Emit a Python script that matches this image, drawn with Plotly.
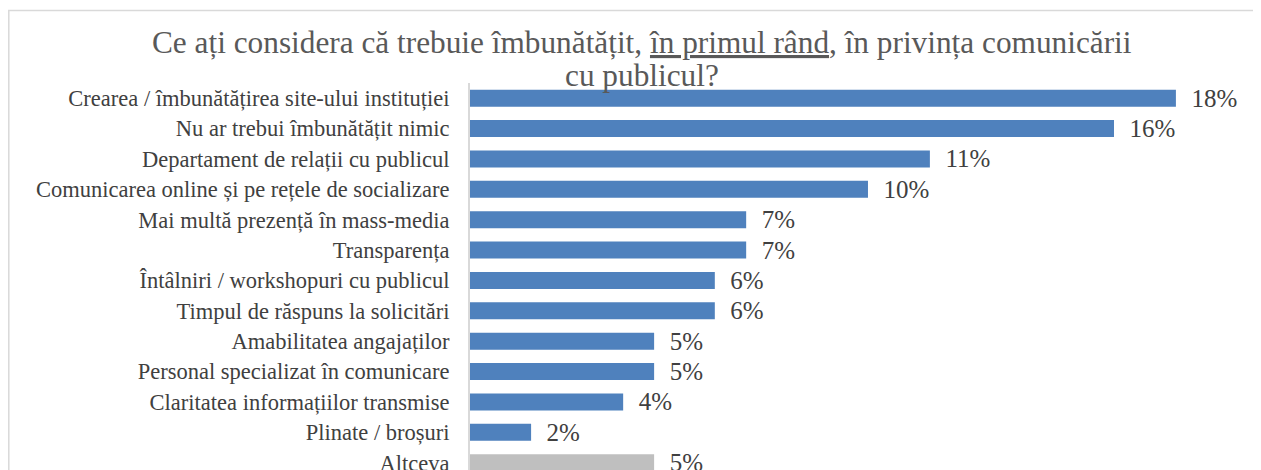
import plotly.graph_objects as go

categories = [
    "Crearea / îmbunătățirea site-ului instituției",
    "Nu ar trebui îmbunătățit nimic",
    "Departament de relații cu publicul",
    "Comunicarea online și pe rețele de socializare",
    "Mai multă prezență în mass-media",
    "Transparența",
    "Întâlniri / workshopuri cu publicul",
    "Timpul de răspuns la solicitări",
    "Amabilitatea angajaților",
    "Personal specializat în comunicare",
    "Claritatea informațiilor transmise",
    "Plinate / broșuri",
    "Altceva",
]
values = [17.56, 16.02, 11.44, 9.90, 6.87, 6.87, 6.09, 6.09, 4.58, 4.58, 3.81, 1.52, 4.58]
labels = ["18%", "16%", "11%", "10%", "7%", "7%", "6%", "6%", "5%", "5%", "4%", "2%", "5%"]

title_lines = [
    "Ce ați considera că trebuie îmbunătățit, <u>în primul rând</u>, în privința comunicării",
    "cu publicul?",
]

BLUE = "#4f81bd"
GREY = "#bfbfbf"
TXT = "#404040"
SERIF = "Liberation Serif"
colors = [BLUE] * (len(categories) - 1) + [GREY]

# the page body has an 8px margin, so the figure is drawn 8px right/down
PAGE = 8
PLOT_L, PLOT_T = 470 - PAGE, 83 - PAGE
PLOT_W, PLOT_H = 791, 387

fig = go.Figure()
fig.add_trace(
    go.Bar(
        x=values,
        y=categories,
        orientation="h",
        marker=dict(color=colors, line=dict(width=0)),
        width=0.56,
        text=["\u00a0\u00a0" + t for t in labels],
        textposition="outside",
        constraintext="none",
        textfont=dict(family=SERIF, size=25, color=TXT),
        cliponaxis=False,
        hoverinfo="skip",
    )
)

# gray frame of the original chart area (cropped on the right and bottom)
fig.add_shape(
    type="rect", xref="paper", yref="paper",
    x0=(0.8 - PLOT_L) / PLOT_W, x1=1.1,
    y0=-0.2, y1=1 + (PLOT_T - (10.5 - PAGE)) / PLOT_H,
    line=dict(color="#d9d9d9", width=1.5),
    layer="below",
)

# title, two lines as in the original
for i, line in enumerate(title_lines):
    fig.add_annotation(
        text=line,
        xref="paper", yref="paper",
        x=(642 - 470) / PLOT_W,
        y=1 + (83 - 43 - 33 * i) / PLOT_H,
        xanchor="center", yanchor="middle",
        showarrow=False,
        font=dict(family=SERIF, size=31.3, color="#595959"),
    )

fig.update_layout(
    width=1261 - PAGE,
    height=470 - PAGE,
    margin={"l": PLOT_L, "r": 0, "t": PLOT_T, "b": 0, "autoexpand": False},
    paper_bgcolor="white",
    plot_bgcolor="white",
    showlegend=False,
    xaxis=dict(
        range=[0, PLOT_W / 40.2],
        showgrid=False,
        zeroline=False,
        showticklabels=False,
        showline=False,
        automargin=False,
    ),
    yaxis=dict(
        range=[12.24, -0.5],
        showgrid=False,
        zeroline=False,
        showline=True,
        linecolor="#d9d9d9",
        linewidth=2,
        ticks="",
        ticklabelstandoff=14,
        automargin=False,
        tickfont=dict(family=SERIF, size=22.5, color=TXT),
    ),
)

fig.write_html("out.html")
